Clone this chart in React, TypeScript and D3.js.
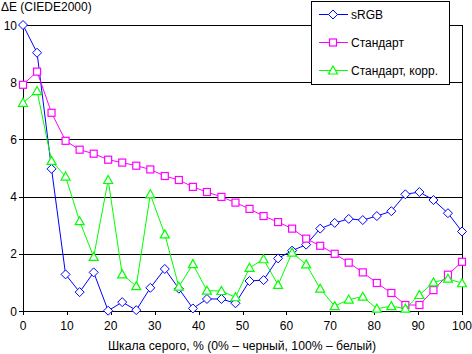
import React from "react";
import * as d3 from "d3";

const xValues: number[] = [0, 3.2, 6.5, 9.7, 12.9, 16.1, 19.4, 22.6, 25.8, 29.0, 32.3, 35.5, 38.7, 41.9, 45.2, 48.4, 51.6, 54.8, 58.1, 61.3, 64.5, 67.7, 71.0, 74.2, 77.4, 80.6, 83.9, 87.1, 90.3, 93.5, 96.8, 100];
const srgb: number[] = [10.0, 9.03, 4.97, 1.28, 0.66, 1.35, 0.01, 0.31, 0.03, 0.81, 1.47, 0.78, 0.09, 0.42, 0.42, 0.27, 1.05, 1.08, 1.84, 2.11, 2.32, 2.88, 3.08, 3.22, 3.18, 3.32, 3.49, 4.08, 4.16, 3.88, 3.42, 2.78];
const standard: number[] = [7.91, 8.37, 6.93, 5.95, 5.64, 5.50, 5.29, 5.19, 5.08, 4.95, 4.72, 4.58, 4.34, 4.16, 3.99, 3.79, 3.57, 3.32, 3.11, 2.88, 2.53, 2.28, 2.00, 1.69, 1.35, 0.98, 0.63, 0.21, 0.21, 0.73, 1.27, 1.72];
const standardCorr: number[] = [7.28, 7.69, 5.25, 4.70, 3.14, 1.89, 4.58, 1.28, 0.87, 4.08, 2.68, 0.85, 1.64, 0.71, 0.70, 0.48, 1.51, 1.81, 0.91, 2.04, 1.63, 0.78, 0.17, 0.40, 0.50, 0.08, 0.17, 0.08, 0.56, 1.00, 1.13, 0.97];
const seriesNames: string[] = ["sRGB", "Стандарт", "Стандарт, корр."];
const seriesColors: string[] = ["#0000ff", "#ff00ff", "#00ff00"];
const xTicks: number[] = [0, 10, 20, 30, 40, 50, 60, 70, 80, 90, 100];
const yTicks: number[] = [0, 2, 4, 6, 8, 10];
const yTitle = "ΔE (CIEDE2000)";
const xTitle = "Шкала серого, % (0% – черный, 100% – белый)";

const W = 472, H = 354;
const left = 23, right = 462, top = 25, bottom = 311;
const font = "'Liberation Sans', Arial, sans-serif";

function Marker({ kind, x, y, color }: { kind: number; x: number; y: number; color: string }) {
  if (kind === 0) {
    const r = 4.5;
    return <path d={`M${x},${y - r}L${x + r},${y}L${x},${y + r}L${x - r},${y}Z`} fill="#fff" stroke={color} strokeWidth={1} />;
  }
  if (kind === 1) {
    const r = 3.5;
    return <rect x={x - r} y={y - r} width={2 * r} height={2 * r} fill="#fff" stroke={color} strokeWidth={1.2} />;
  }
  const r = 4.5;
  return <path d={`M${x},${y - r}L${x + r},${y + 3.5}L${x - r},${y + 3.5}Z`} fill="#fff" stroke={color} strokeWidth={1.2} />;
}

export default function App() {
  const x = d3.scaleLinear().domain([0, 100]).range([left, right]);
  const y = d3.scaleLinear().domain([0, 10]).range([bottom, top]);
  const all = [srgb, standard, standardCorr];
  const line = d3.line<number>().x((_, i) => x(xValues[i])).y((d) => y(d));

  return (
    <svg width={W} height={H} style={{ position: "absolute", left: 0, top: 0, background: "#fff" }} fontFamily={font}>
      <rect x={0} y={0} width={W} height={H} fill="#fff" />
      {yTicks.map((t) => (
        <g key={"y" + t}>
          <line x1={left - 4} x2={right} y1={Math.round(y(t)) + 0.5} y2={Math.round(y(t)) + 0.5} stroke="#000" strokeWidth={1} shapeRendering="crispEdges" />
          <text x={17} y={y(t) + 4.5} textAnchor="end" fontSize={12}>{t}</text>
        </g>
      ))}
      <line x1={left + 0.5} x2={left + 0.5} y1={top} y2={bottom + 4} stroke="#000" shapeRendering="crispEdges" />
      <line x1={right + 0.5} x2={right + 0.5} y1={top} y2={bottom + 4} stroke="#000" shapeRendering="crispEdges" />
      {xTicks.map((t) => (
        <g key={"x" + t}>
          <line x1={Math.round(x(t)) + 0.5} x2={Math.round(x(t)) + 0.5} y1={bottom} y2={bottom + 4} stroke="#000" shapeRendering="crispEdges" />
          <text x={x(t)} y={bottom + 19} textAnchor="middle" fontSize={12}>{t}</text>
        </g>
      ))}
      <text x={1} y={10.5} fontSize={12}>{yTitle}</text>
      <text x={242} y={349.5} textAnchor="middle" fontSize={12.2}>{xTitle}</text>
      {all.map((s, k) => (
        <g key={"s" + k}>
          <path d={line(s) || ""} fill="none" stroke={seriesColors[k]} strokeWidth={1} />
          {s.map((v, i) => (
            <Marker key={i} kind={k} x={x(xValues[i])} y={y(v)} color={seriesColors[k]} />
          ))}
        </g>
      ))}
      <g>
        <rect x={311.5} y={1.5} width={138} height={83} fill="#fff" stroke="#000" strokeWidth={1} shapeRendering="crispEdges" />
        {seriesNames.map((n, k) => {
          const ly = 14.5 + k * 28;
          return (
            <g key={"l" + k}>
              <line x1={319} x2={348} y1={ly} y2={ly} stroke={seriesColors[k]} strokeWidth={1} />
              <Marker kind={k} x={333} y={ly} color={seriesColors[k]} />
              <text x={351} y={ly + 4.5} fontSize={12}>{n}</text>
            </g>
          );
        })}
      </g>
    </svg>
  );
}
